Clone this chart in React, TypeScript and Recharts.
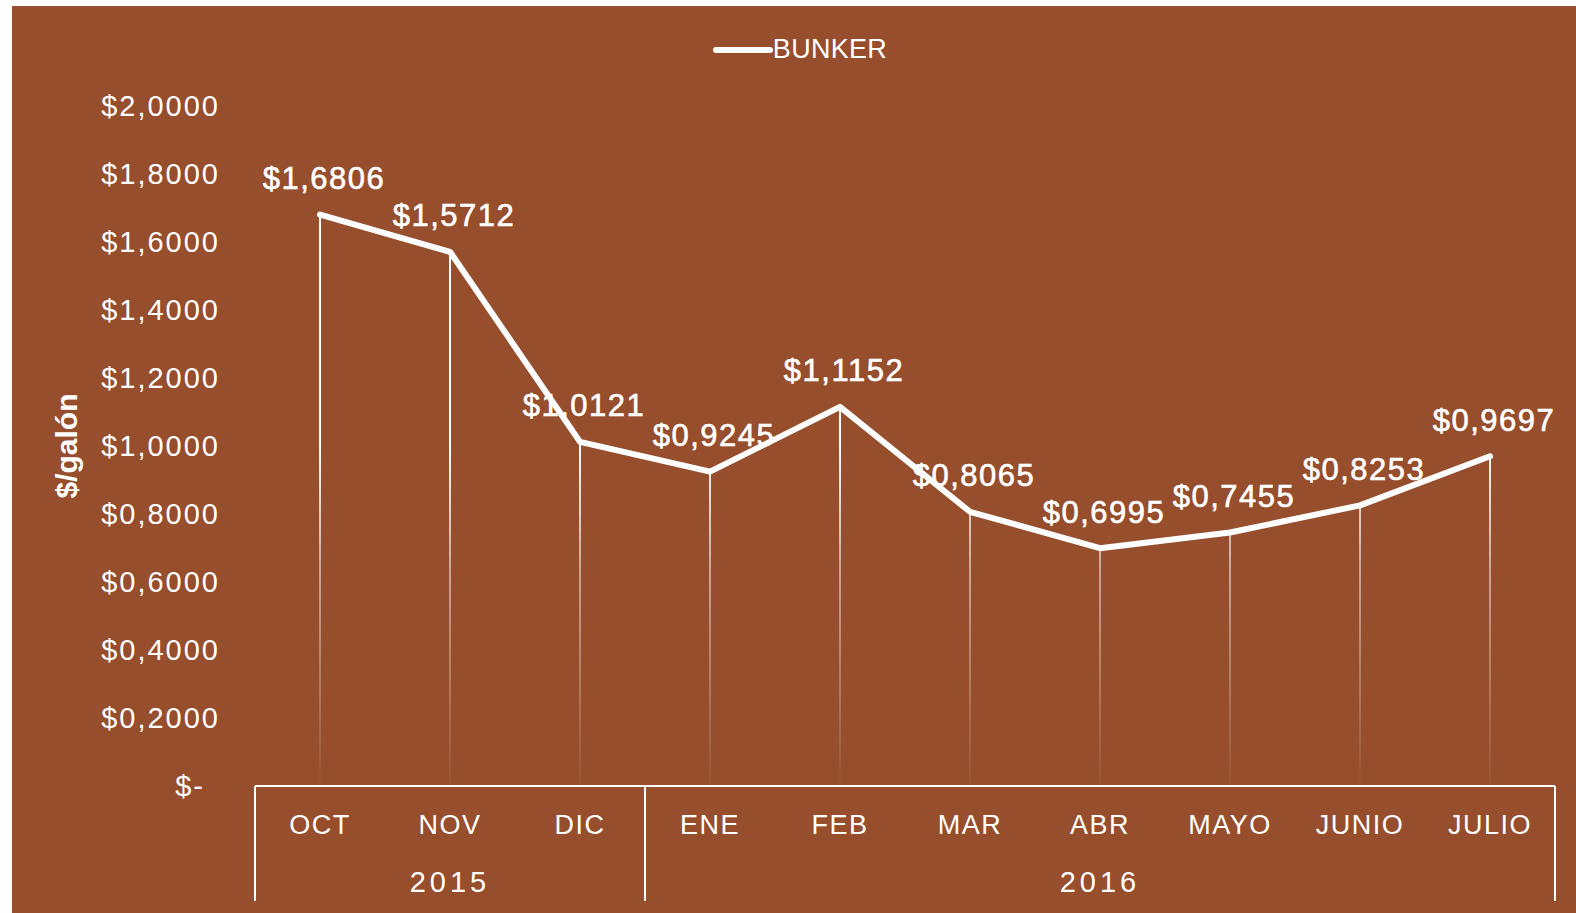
import React from "react";
import { ComposedChart, Line, Bar, XAxis, YAxis, Legend, LabelList } from "recharts";

const months = ["OCT", "NOV", "DIC", "ENE", "FEB", "MAR", "ABR", "MAYO", "JUNIO", "JULIO"];
const years = ["2015", "2015", "2015", "2016", "2016", "2016", "2016", "2016", "2016", "2016"];
const bunker = [1.6806, 1.5712, 1.0121, 0.9245, 1.1152, 0.8065, 0.6995, 0.7455, 0.8253, 0.9697];
const yTicks = [0, 0.2, 0.4, 0.6, 0.8, 1.0, 1.2, 1.4, 1.6, 1.8, 2.0];

const BG = "#964E2D";
const CHART_W = 1564;
const CHART_H = 907;
const Y_AXIS_W = 243;
const MARGIN = { top: 100, right: 21, bottom: 0, left: 0 };
const X_AXIS_H = 127;
const PLOT_W = CHART_W - Y_AXIS_W - MARGIN.right;
const HALF_BAND = PLOT_W / months.length / 2;
const FONT = "'Liberation Sans', Arial, sans-serif";

var data = months.map(function (m, i) {
  return { month: m, year: years[i], value: bunker[i] };
});

function money(v: number) {
  if (v === 0) return "$-";
  return "$" + v.toFixed(4).replace(".", ",");
}

// y ticks: accounting style, the "$-" sits a bit left of the others
function YTick(props: any) {
  var v = props.payload.value;
  return (
    <text
      x={props.x - (v === 0 ? 15 : 0)}
      y={props.y}
      textAnchor="end"
      dominantBaseline="central"
      fill="#ffffff"
      fontFamily={FONT}
      fontSize={29}
      letterSpacing={2}
    >
      {money(v)}
    </text>
  );
}

// month label + year group label + group separators
function MonthTick(props: any) {
  var i = props.index;
  var x = props.x;
  var y = props.y;
  var isStart = i === 0 || years[i] !== years[i - 1];
  var isLast = i === years.length - 1;
  var groupLen = 0;
  if (isStart) {
    for (var j = i; j < years.length && years[j] === years[i]; j++) groupLen++;
  }
  return (
    <g>
      <text
        x={x}
        y={y + 39}
        textAnchor="middle"
        dominantBaseline="central"
        fill="#ffffff"
        fontFamily={FONT}
        fontSize={27}
        letterSpacing={1.5}
      >
        {months[i]}
      </text>
      {isStart && (
        <line x1={x - HALF_BAND} x2={x - HALF_BAND} y1={y} y2={y + 115} stroke="#ffffff" strokeWidth={2} />
      )}
      {isLast && (
        <line x1={x + HALF_BAND} x2={x + HALF_BAND} y1={y} y2={y + 115} stroke="#ffffff" strokeWidth={2} />
      )}
      {isStart && (
        <text
          x={x + (groupLen - 1) * HALF_BAND}
          y={y + 96}
          textAnchor="middle"
          dominantBaseline="central"
          fill="#ffffff"
          fontFamily={FONT}
          fontSize={29}
          letterSpacing={4}
        >
          {years[i]}
        </text>
      )}
    </g>
  );
}

function ValueLabel(props: any) {
  return (
    <text
      x={props.x + 4}
      y={props.y - 36}
      textAnchor="middle"
      dominantBaseline="central"
      fill="#ffffff"
      stroke="#ffffff"
      strokeWidth={0.6}
      fontFamily={FONT}
      fontSize={31}
      letterSpacing={1.5}
    >
      {money(props.value)}
    </text>
  );
}

function LegendBox() {
  return (
    <div style={{ display: "flex", justifyContent: "center", alignItems: "center", paddingLeft: 12 }}>
      <svg width={60} height={12}>
        <line x1={3} x2={57} y1={6} y2={6} stroke="#ffffff" strokeWidth={6} strokeLinecap="round" />
      </svg>
      <span style={{ color: "#ffffff", fontFamily: FONT, fontSize: 27, letterSpacing: 0.3 }}>BUNKER</span>
    </div>
  );
}

function YLabel(props: any) {
  var vb = props.viewBox;
  var cx = vb.x + 54;
  var cy = vb.y + vb.height / 2;
  return (
    <text
      x={cx}
      y={cy}
      transform={"rotate(-90 " + cx + " " + cy + ")"}
      textAnchor="middle"
      dominantBaseline="central"
      fill="#ffffff"
      fontFamily={FONT}
      fontWeight="bold"
      fontSize={30}
    >
      $/galón
    </text>
  );
}

export default function App() {
  var plotTop = MARGIN.top;
  var plotBottom = CHART_H - X_AXIS_H;
  return (
    <div style={{ position: "absolute", left: 0, top: 0, width: 1576, height: 913, background: "#ffffff" }}>
      <div style={{ position: "absolute", left: 12, top: 6, width: CHART_W, height: CHART_H, background: BG }}>
        <ComposedChart width={CHART_W} height={CHART_H} data={data} margin={MARGIN}>
          <defs>
            <linearGradient id="dropFade" gradientUnits="userSpaceOnUse" x1={0} y1={plotTop} x2={0} y2={plotBottom}>
              <stop offset="0%" stopColor="#ffffff" stopOpacity={1} />
              <stop offset="50%" stopColor="#ffffff" stopOpacity={1} />
              <stop offset="68%" stopColor="#ffffff" stopOpacity={0.5} />
              <stop offset="100%" stopColor="#ffffff" stopOpacity={0.03} />
            </linearGradient>
          </defs>
          <XAxis
            dataKey="month"
            height={X_AXIS_H}
            tickLine={false}
            tickSize={0}
            tickMargin={0}
            axisLine={{ stroke: "#ffffff", strokeWidth: 2 }}
            tick={<MonthTick />}
            interval={0}
          />
          <YAxis
            width={Y_AXIS_W}
            domain={[0, 2]}
            ticks={yTicks}
            axisLine={false}
            tickLine={false}
            tickSize={0}
            tickMargin={35}
            tick={<YTick />}
            label={<YLabel />}
          />
          <Legend
            verticalAlign="middle"
            align="center"
            wrapperStyle={{ top: 28, left: 0, width: CHART_W }}
            content={<LegendBox />}
          />
          <Bar dataKey="value" barSize={2} fill="url(#dropFade)" isAnimationActive={false} legendType="none" />
          <Line
            type="linear"
            dataKey="value"
            name="BUNKER"
            stroke="#ffffff"
            strokeWidth={6}
            strokeLinecap="round"
            strokeLinejoin="round"
            dot={false}
            activeDot={false}
            isAnimationActive={false}
          >
            <LabelList dataKey="value" content={<ValueLabel />} />
          </Line>
        </ComposedChart>
      </div>
    </div>
  );
}
